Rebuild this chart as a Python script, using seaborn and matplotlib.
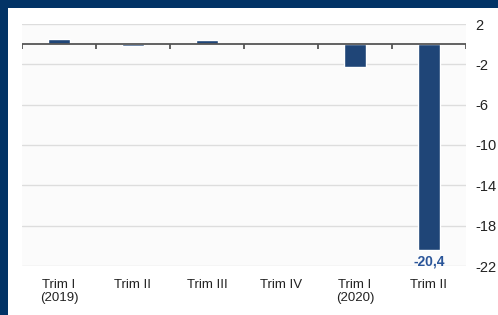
import matplotlib
matplotlib.use("Agg")
import matplotlib.pyplot as plt
import seaborn as sns
import pandas as pd
from matplotlib.patches import Rectangle

categories = ["Trim I\n(2019)", "Trim II", "Trim III", "Trim IV", "Trim I\n(2020)", "Trim II"]
keys = ["q1_2019", "q2_2019", "q3_2019", "q4_2019", "q1_2020", "q2_2020"]
values = [0.5, -0.2, 0.4, 0.0, -2.3, -20.4]
yticks = [2, -2, -6, -10, -14, -18, -22]
last_label = "-20,4"

sns.set_theme(style="white")
plt.rcParams['font.family'] = ['Liberation Sans', 'DejaVu Sans']

df = pd.DataFrame({"key": keys, "value": values})

fig = plt.figure(figsize=(4.98, 3.15), dpi=100)
fig.patch.set_facecolor("#023366")
bg = fig.add_axes([8/498, 0, 1 - 8/498, 1 - 8/315], zorder=-5)
bg.set_facecolor("white")
bg.set_axis_off()
bg.add_patch(Rectangle((0, 0), 1, 1, transform=bg.transAxes, facecolor="white", edgecolor="none"))

ax = fig.add_axes([22/498, 1 - 266/315, (466 - 22)/498, (266 - 24)/315], zorder=1)
ax.set_facecolor("#fbfbfb")

sns.barplot(data=df, x="key", y="value", order=keys, color="#1f4577",
            width=0.31, saturation=1, ax=ax, zorder=3)

ax.set_ylim(-22, 2)
ax.set_xlim(-0.5, len(keys) - 0.5)
ax.set_yticks(yticks)
ax.set_yticklabels([str(t) for t in yticks])
ax.yaxis.tick_right()
ax.tick_params(axis="y", length=0, pad=7, labelsize=10.5, labelcolor="#222222")
for lbl in ax.get_yticklabels():
    lbl.set_horizontalalignment("left")
ax.set_xticks(range(len(keys)))
ax.set_xticklabels(categories)
ax.tick_params(axis="x", length=0, pad=9, labelsize=9.5, labelcolor="#222222")
ax.set_xlabel("")
ax.set_ylabel("")
for t in yticks:
    ax.axhline(t, color="#dddddd", lw=1, zorder=1)
ax.axhline(0, color="#555555", lw=1.3, zorder=4)
for b in [i - 0.5 for i in range(len(keys) + 1)]:
    ax.vlines(b, -0.45, 0, color="#555555", lw=1.3, zorder=4)
for s in ax.spines.values():
    s.set_visible(False)

ax.annotate(last_label, xy=(len(keys) - 1, values[-1]), xytext=(0, -3),
            textcoords="offset points", ha="center", va="top",
            fontsize=10, fontweight="bold", color="#2a5599", zorder=5)

fig.savefig("out.png", dpi=100, facecolor=fig.get_facecolor())
